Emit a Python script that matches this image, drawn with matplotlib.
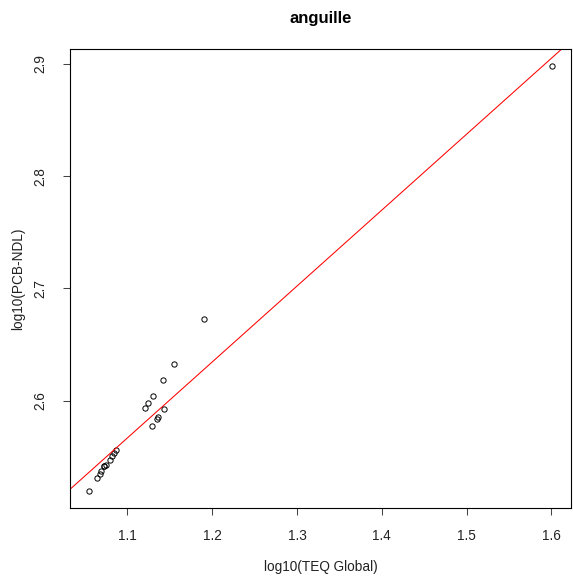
import matplotlib
import matplotlib.pyplot as plt
import numpy as np

matplotlib.use("Agg")
plt.rcParams["font.family"] = ["Liberation Sans", "DejaVu Sans"]

# valeurs
teq = [1.6012, 1.1906, 1.1553, 1.1420, 1.1298, 1.1239, 1.1204, 1.1435,
       1.1356, 1.1345, 1.1286, 1.0867, 1.0839, 1.0815, 1.0796, 1.0741,
       1.0729, 1.0718, 1.0691, 1.0671, 1.0644, 1.0541]
pcb = [2.8982, 2.6723, 2.6330, 2.6181, 2.6038, 2.5976, 2.5935, 2.5929,
       2.5854, 2.5839, 2.5771, 2.5563, 2.5533, 2.5503, 2.5473, 2.5429,
       2.5420, 2.5413, 2.5369, 2.5348, 2.5310, 2.5194]
fit_intercept = 1.8224
fit_slope = 0.6767
x_ticks = [1.1, 1.2, 1.3, 1.4, 1.5, 1.6]
y_ticks = [2.6, 2.7, 2.8, 2.9]

fig = plt.figure(figsize=(5.73, 5.78), dpi=100)
ax = fig.add_axes([70 / 573, 1 - 508 / 578, 501 / 573, 459 / 578])

ax.plot(teq, pcb, linestyle="none", marker="o", markersize=3.8,
        markerfacecolor="none", markeredgecolor="black", markeredgewidth=0.7)
ax.axline((0, fit_intercept), slope=fit_slope, color="red", linewidth=0.75)

# marges à la R (4 %)
xr = max(teq) - min(teq)
yr = max(pcb) - min(pcb)
ax.set_xlim(min(teq) - 0.04 * xr, max(teq) + 0.04 * xr)
ax.set_ylim(min(pcb) - 0.04 * yr, max(pcb) + 0.04 * yr)

ax.set_xticks(x_ticks)
ax.set_xticklabels([f"{v:.1f}" for v in x_ticks])
ax.set_yticks(y_ticks)
ax.set_yticklabels([f"{v:.1f}" for v in y_ticks], rotation=90, va="center")
ax.tick_params(axis="x", length=5, width=0.75, labelsize=9.8, pad=10,
               color="#444444", labelcolor="#222222")
ax.tick_params(axis="y", length=5, width=0.75, labelsize=9.8, pad=11,
               color="#444444", labelcolor="#222222")
for spine in ax.spines.values():
    spine.set_linewidth(0.8)
    spine.set_color("black")

fig.text(0.5 * (70 + 571) / 573, 1 - 19 / 578, "anguille", ha="center",
         va="center", fontsize=12, fontweight="bold")
fig.text(0.5 * (70 + 571) / 573, 1 - 567 / 578, "log10(TEQ Global)",
         ha="center", va="center", fontsize=9.8, color="#222222")
fig.text(18 / 573, 1 - 0.5 * (49 + 508) / 578, "log10(PCB-NDL)",
         ha="center", va="center", rotation=90, fontsize=9.8, color="#222222")

fig.savefig("out.png", dpi=100)
plt.close(fig)
